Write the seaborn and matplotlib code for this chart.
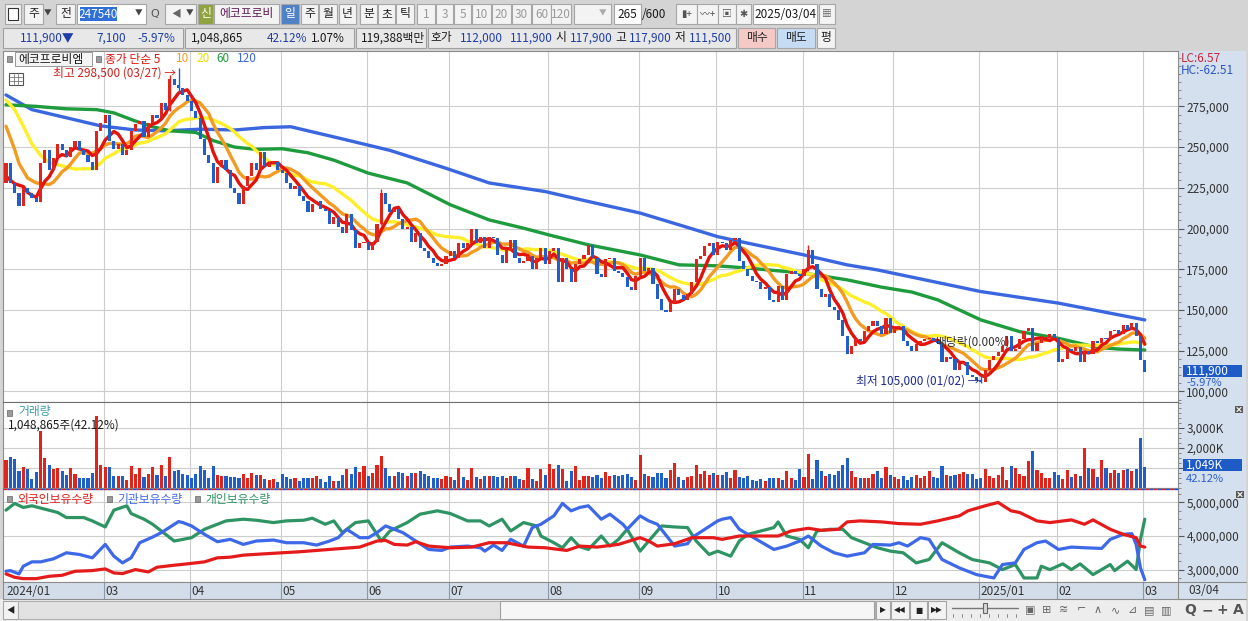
import numpy as np
import pandas as pd
import matplotlib
matplotlib.use("Agg")
import matplotlib.pyplot as plt
from matplotlib.patches import Rectangle
from matplotlib.lines import Line2D
from matplotlib.ticker import MultipleLocator, FuncFormatter
import seaborn as sns

# ---- data (price in 1000 won, volume in 1000 shares) ----
first_open = 228
close = [
    240, 228, 222, 214, 225, 222, 219, 216, 240, 248,
    236, 243, 252, 248, 244, 250, 254, 248, 245, 241,
    236, 260, 265, 270, 254, 249, 252, 245, 248, 260,
    264, 266, 256, 265, 270, 268, 277, 273, 292, 288,
    286, 282, 278, 272, 268, 255, 245, 240, 228, 238,
    242, 236, 225, 222, 215, 226, 232, 240, 236, 247,
    238, 240, 241, 236, 234, 228, 224, 226, 220, 217,
    210, 215, 217, 212, 211, 203, 207, 201, 197, 209,
    199, 188, 191, 192, 187, 192, 203, 222, 215, 210,
    212, 206, 200, 201, 192, 197, 188, 186, 182, 179,
    177, 178, 183, 186, 182, 191, 188, 191, 200, 191,
    195, 188, 195, 194, 184, 179, 187, 193, 182, 179,
    180, 183, 175, 182, 188, 178, 186, 188, 167, 182,
    175, 167, 178, 181, 184, 190, 182, 172, 170, 181,
    182, 174, 173, 170, 164, 162, 171, 182, 174, 176,
    166, 157, 150, 149, 154, 163, 159, 156, 160, 167,
    181, 183, 189, 191, 184, 192, 191, 187, 193, 194,
    180, 175, 171, 168, 167, 163, 164, 156, 155, 165,
    156, 172, 174, 172, 171, 175, 187, 178, 163, 158,
    160, 152, 150, 144, 134, 123, 128, 132, 131, 137,
    140, 143, 140, 135, 145, 136, 139, 140, 131, 128,
    125, 129, 131, 132, 133, 131, 130, 118, 121, 120,
    113, 117, 118, 110, 109, 107, 106, 113, 119, 122,
    124, 128, 134, 125, 126, 132, 137, 139, 125, 130,
    133, 133, 135, 133, 118, 120, 126, 125, 127, 118,
    125, 123, 131, 130, 133, 132, 137, 138, 135, 141,
    138, 142, 134, 119, 111.9,
]
volume = [
    1400, 1533, 1450, 867, 1033, 950, 450, 817, 2867, 1500,
    1150, 950, 1000, 867, 650, 1000, 700, 500, 500, 500,
    750, 3617, 1150, 1050, 1050, 617, 617, 617, 417, 1117,
    700, 1000, 567, 700, 1050, 650, 1150, 617, 1567, 867,
    917, 700, 650, 500, 700, 1117, 917, 500, 1117, 650,
    617, 583, 533, 533, 500, 700, 500, 750, 650, 650,
    450, 417, 450, 317, 700, 533, 450, 500, 367, 500,
    500, 500, 583, 450, 317, 583, 367, 367, 650, 950,
    700, 1033, 817, 1117, 583, 750, 1150, 1617, 1000, 617,
    583, 783, 750, 583, 750, 750, 867, 700, 583, 500,
    500, 450, 583, 533, 400, 1000, 533, 400, 1000, 533,
    450, 583, 583, 583, 533, 583, 500, 583, 617, 450,
    417, 1000, 450, 367, 950, 650, 1200, 950, 1150, 950,
    367, 867, 1117, 400, 583, 583, 533, 650, 500, 783,
    583, 650, 617, 650, 700, 533, 400, 1650, 700, 583,
    533, 750, 750, 500, 917, 1250, 533, 400, 533, 583,
    1150, 700, 867, 650, 750, 650, 650, 783, 500, 900,
    567, 500, 583, 400, 333, 450, 367, 500, 500, 500,
    400, 867, 500, 400, 950, 567, 1700, 450, 1400, 867,
    583, 700, 650, 867, 1150, 1500, 867, 533, 500, 500,
    500, 700, 867, 500, 1067, 650, 533, 450, 583, 400,
    533, 650, 500, 583, 867, 567, 500, 1117, 650, 617,
    650, 700, 817, 700, 700, 450, 500, 950, 583, 500,
    650, 1033, 400, 1100, 1000, 700, 583, 1367, 1850, 900,
    750, 500, 500, 817, 650, 450, 900, 533, 700, 583,
    2000, 1000, 950, 533, 1400, 1000, 750, 900, 750, 900,
    950, 867, 950, 2500, 1049,
]

# trading days per month, 2024-01-26 .. 2025-03-04
month_labels = ['2024/01', '', '03', '04', '05', '06', '07', '08', '09', '10', '11', '12', '2025/01', '02', '03']
month_days = [4, 19, 20, 21, 20, 19, 23, 21, 18, 20, 21, 20, 18, 20, 1]

# wicks for the marked candles
wick_idx = [38, 40, 87, 186, 226]
wick_low = [272, 283, 202, 174, 105]
wick_high = [294, 298.5, 224, 190, 110]
peak_idx, peak_high, peak_date = 40, 298.5, '03/27'
low_idx, low_low, low_date = 226, 105.0, '01/02'

# moving average heads (before the window fills)
ma5_head_idx, ma5_head_val = [0, 2], [232, 227.5]
ma10_head_idx, ma10_head_val = [0, 2, 3, 5, 7], [262.8, 248.6, 240, 231, 228]
ma20_head_idx = [0, 2, 4, 6, 8, 10, 13, 16]
ma20_head_val = [279, 273, 263, 252, 245, 240.5, 238.5, 236.5]
ma60_idx = [0, 7, 14, 21, 25, 30, 34, 38, 44, 48, 53, 58, 64, 70, 76, 84, 93, 103, 112,
            120, 126, 135, 147, 156, 165, 172, 185, 195, 203, 210, 216, 226, 235, 244, 253, 258, 264]
ma60_val = [276, 275, 273.5, 273, 271, 266, 262.5, 260, 259, 254, 250, 248.6, 249, 246.5, 242, 234,
            228, 214.6, 205.3, 200.2, 196, 190, 183.8, 177.7, 177.1, 175.7, 172.6, 168.5, 164, 161,
            156.2, 143.9, 136.7, 132.6, 127, 126, 125.4]
ma120_idx = [0, 6, 14, 22, 30, 37, 45, 53, 60, 66, 78, 89, 102, 112, 125, 135, 147, 156, 165,
             172, 185, 195, 202, 226, 244, 264]
ma120_val = [282, 273, 268, 263, 260.5, 260, 261, 260.5, 262, 262.5, 255, 248, 237, 228, 222.7,
             216.6, 209.5, 202.3, 195, 191, 183.8, 177.7, 174.6, 161.3, 154.2, 143.9]

# holdings (millions of shares, as on the panel scale)
foreign_idx = [0, 2, 4, 7, 10, 13, 16, 20, 23, 25, 27, 30, 33, 35, 39, 42, 46, 49, 52, 55,
               60, 64, 68, 73, 77, 82, 86, 88, 90, 93, 95, 98, 103, 108, 112, 116, 121, 125, 130, 133,
               137, 142, 147, 149, 151, 155, 159, 164, 166, 170, 174, 179, 182, 186, 189, 193, 195, 198, 203, 207,
               212, 216, 221, 223, 227, 230, 233, 235, 239, 242, 247, 250, 252, 256, 259, 262, 263, 264]
foreign_val = [2.87, 2.77, 2.73, 2.73, 2.80, 2.83, 2.95, 2.97, 3.02, 2.90, 2.88, 3.00, 2.93, 3.07, 3.13, 3.17, 3.23, 3.35, 3.37, 3.43,
               3.47, 3.50, 3.53, 3.58, 3.62, 3.67, 3.85, 3.87, 3.75, 3.73, 3.83, 3.70, 3.65, 3.67, 3.80, 3.80, 3.67, 3.65, 3.57, 3.70,
               3.67, 3.75, 3.95, 3.85, 3.70, 3.77, 3.95, 3.95, 3.90, 4.00, 4.00, 4.00, 4.15, 4.23, 4.17, 4.20, 4.42, 4.45, 4.42, 4.37,
               4.35, 4.45, 4.60, 4.75, 4.90, 5.00, 4.75, 4.70, 4.45, 4.40, 4.48, 4.35, 4.48, 4.20, 4.05, 3.95, 3.70, 3.67]
inst_idx = [0, 1, 3, 4, 6, 8, 11, 14, 17, 20, 23, 25, 27, 29, 31, 34, 36, 40, 41, 43, 46, 49, 52, 55, 58,
            62, 65, 69, 72, 75, 77, 79, 82, 84, 86, 88, 89, 92, 95, 98, 101, 103, 107, 110, 111, 113, 115,
            117, 120, 122, 124, 127, 129, 131, 133, 135, 138, 140, 143, 144, 147, 149, 151, 155, 158, 159,
            162, 165, 166, 168, 170, 172, 176, 178, 181, 184, 186, 189, 192, 195, 199, 201, 205, 207, 209,
            212, 214, 217, 221, 225, 229, 231, 234, 236, 239, 241, 244, 247, 250, 254, 256, 259, 261, 262, 263, 264]
inst_val = [2.95, 2.97, 2.87, 3.10, 3.23, 3.23, 3.32, 3.50, 3.45, 3.35, 3.75, 3.40, 3.20, 3.35, 3.80, 3.97, 4.10, 4.43, 4.40, 4.30, 4.05, 3.83, 3.90, 3.75, 3.85,
            3.88, 3.80, 3.80, 3.73, 3.85, 3.95, 4.20, 3.95, 3.95, 4.10, 4.30, 4.25, 4.10, 3.85, 3.60, 3.57, 3.67, 3.70, 3.65, 3.55, 3.73, 3.57,
            3.90, 3.70, 4.25, 4.35, 4.60, 4.97, 4.75, 4.85, 4.90, 4.50, 4.65, 4.35, 4.20, 4.60, 4.45, 4.35, 3.70, 3.77, 3.95,
            4.20, 4.45, 4.50, 4.55, 4.20, 4.05, 3.75, 3.60, 3.70, 3.85, 4.00, 3.70, 3.50, 3.40, 3.50, 3.75, 3.73, 3.80, 3.70,
            3.95, 3.90, 3.30, 3.05, 2.85, 2.75, 3.15, 3.20, 3.60, 3.80, 3.85, 3.60, 3.67, 3.65, 3.63, 3.90, 4.05, 4.07, 3.75, 3.05, 2.70]
indiv_idx = [0, 2, 4, 6, 9, 12, 14, 18, 20, 23, 25, 28, 29, 32, 34, 36, 39, 41, 43, 46, 48, 51, 55, 58, 62,
             65, 69, 71, 74, 76, 78, 81, 84, 87, 89, 93, 96, 100, 103, 107, 110, 112, 115, 117, 120, 123, 124,
             127, 129, 131, 133, 135, 138, 140, 142, 144, 147, 150, 152, 155, 158, 160, 163, 165, 168, 170, 172,
             175, 178, 179, 181, 184, 186, 188, 191, 194, 196, 200, 202, 205, 208, 211, 214, 217, 221, 224, 228,
             231, 234, 236, 239, 240, 242, 245, 247, 249, 252, 256, 257, 260, 262, 263, 264]
indiv_val = [4.77, 4.97, 4.85, 4.90, 4.80, 4.70, 4.55, 4.55, 4.45, 4.27, 4.77, 4.90, 4.67, 4.50, 4.35, 4.15, 3.85, 3.90, 3.95, 4.20, 4.30, 4.45, 4.50, 4.47, 4.40,
             4.45, 4.47, 4.53, 4.35, 4.45, 4.10, 4.40, 4.45, 3.85, 4.15, 4.40, 4.65, 4.75, 4.67, 4.45, 4.45, 4.30, 4.50, 4.15, 4.40, 4.30, 4.00,
             3.80, 3.65, 3.95, 3.68, 3.60, 4.00, 3.70, 3.90, 4.20, 3.55, 4.00, 4.30, 4.27, 4.25, 3.85, 3.45, 3.55, 3.40, 3.85, 4.05,
             4.15, 4.25, 4.42, 4.00, 3.90, 3.65, 4.15, 4.20, 4.20, 3.95, 3.75, 3.65, 3.55, 3.50, 3.20, 3.30, 3.80, 3.50, 3.30, 3.20,
             3.00, 3.15, 2.75, 2.75, 3.10, 3.00, 3.17, 3.00, 3.17, 2.85, 3.15, 2.97, 3.25, 3.00, 3.90, 4.50]

RED = '#E2231A'
BLUE = '#1F5FCB'
MA_COLORS = {5: '#E3120B', 10: '#F39A21', 20: '#FFEE2A', 60: '#1E9B3C', 120: '#3A66E0'}
GRID = '#CDCDCD'
COLBG = '#D5E0EE'

sns.set_style("white")
plt.rcParams['font.family'] = ['Noto Sans CJK KR', 'DejaVu Sans']

W, H = 1248, 621
fig = plt.figure(figsize=(W / 100, H / 100), dpi=100)
fig.patch.set_facecolor('#D4D4D4')


def fx(x):
    return x / W


def fy(y):
    return 1 - y / H


def rect(x0, y0, x1, y1, fc, ec='none', lw=0.8, z=1):
    fig.add_artist(Rectangle((fx(x0), fy(y1)), (x1 - x0) / W, (y1 - y0) / H,
                             transform=fig.transFigure, facecolor=fc, edgecolor=ec, linewidth=lw, zorder=z))


def label(x, y, s, color='#1a1a1a', size=8.5, ha='left', z=6, **kw):
    fig.text(fx(x), fy(y), s, color=color, fontsize=size, ha=ha, va='center', zorder=z, **kw)


def hline(x0, x1, y, color='#808080', lw=0.8, z=6, **kw):
    fig.add_artist(Line2D([fx(x0), fx(x1)], [fy(y), fy(y)], transform=fig.transFigure,
                          color=color, lw=lw, zorder=z, **kw))


def vline(x, y0, y1, color='#808080', lw=0.8, z=6):
    fig.add_artist(Line2D([fx(x), fx(x)], [fy(y0), fy(y1)], transform=fig.transFigure,
                          color=color, lw=lw, zorder=z))


def close_icon(x0, y0):
    # small dark square with a white cross, drawn as lines
    rect(x0, y0, x0 + 8, y0 + 7, '#5A5A5A', z=7)
    fig.add_artist(Line2D([fx(x0 + 2), fx(x0 + 6)], [fy(y0 + 1.5), fy(y0 + 5.5)],
                          transform=fig.transFigure, color='white', lw=0.8, zorder=8))
    fig.add_artist(Line2D([fx(x0 + 2), fx(x0 + 6)], [fy(y0 + 5.5), fy(y0 + 1.5)],
                          transform=fig.transFigure, color='white', lw=0.8, zorder=8))


n = len(close)
idx = np.arange(n)
close_a = np.array(close, dtype=float)
opens = np.r_[first_open, close_a[:-1]]
up = close_a >= opens
candle_col = np.where(up, RED, BLUE)
month_start = np.r_[0, np.cumsum(month_days)[:-1]]
XL = (-0.7, 271.7)

# ---------- toolbar ----------
rect(0, 0, W, 50, '#D4D4D4', z=0.5)


def button(x0, x1, s, y0=4, y1=24, fc='#F3F3F3', tc='#222222', size=8.5, **kw):
    rect(x0, y0, x1, y1, fc, ec='#A6A6A6', lw=0.8, z=1)
    if s:
        label((x0 + x1) / 2, (y0 + y1) / 2, s, color=tc, size=size, ha='center', **kw)


button(5, 21, '')
rect(8, 8, 18, 20, 'white', ec='#333333', lw=0.8, z=2)
button(24, 43, '주')
label(48, 14, '▼', color='#444', size=5.5, ha='center')
button(56, 75, '전')
rect(77, 4, 146, 24, 'white', ec='#A6A6A6', z=1)
rect(80, 7, 117, 21, '#2F6FD8', z=2)
label(98.5, 14, '247540', color='white', size=8.5, ha='center')
label(139, 14, '▼', color='#444', size=5.5, ha='center')
label(155, 14, 'Q', color='#555', size=8, ha='center', family='DejaVu Sans')
button(165, 196, '')
label(176, 14, '◀', color='#666', size=7, ha='center')
label(190, 14, '▼', color='#444', size=5.5, ha='center')
button(198, 213, '신', fc='#8FA33F', tc='white')
button(214, 279, '에코프로비', tc='#5E1B55')
button(281, 299, '일', fc='#4F81C7', tc='white')
for x0, x1, s in [(301, 318, '주'), (319, 337, '월'), (339, 356, '년'),
                  (360, 377, '분'), (378, 395, '초'), (396, 414, '틱')]:
    button(x0, x1, s)
for x0, x1, s in [(417, 435, '1'), (436, 453, '3'), (454, 471, '5'), (472, 491, '10'),
                  (492, 511, '20'), (512, 531, '30'), (532, 551, '60'), (551, 571, '120')]:
    button(x0, x1, s, tc='#9A9A9A')
button(574, 611, '')
label(603, 14, '▼', color='#AAAAAA', size=5.5, ha='center')
rect(614, 4, 641, 24, 'white', ec='#A6A6A6', z=1)
label(627, 14, '265', size=8.5, ha='center')
label(642, 14, '/600', size=8.5)
for x0, x1, s in [(676, 697, '▮+'), (697, 718, '〰+'), (718, 736, '▣'), (736, 751, '✱')]:
    button(x0, x1, s, size=7, tc='#555555')
rect(753, 4, 817, 24, 'white', ec='#A6A6A6', z=1)
label(785, 14, '2025/03/04', size=8.5, ha='center')
button(819, 835, '▦', size=7, tc='#666666')

# second row
for x0, x1 in [(3, 183), (185, 354), (356, 426), (428, 736)]:
    rect(x0, 28, x1, 48, '#E8E8E8', ec='#A0A0A0', z=1)
NAVY = '#1F3FA8'
label(20, 38, '111,900▼', color=NAVY)
label(96, 38, '7,100', color=NAVY)
label(137, 38, '-5.97%', color=NAVY)
label(191, 38, '1,048,865')
label(267, 38, '42.12%', color=NAVY)
label(311, 38, '1.07%')
label(361, 38, '119,388백만')
label(430, 38, '호가')
label(460, 38, '112,000', color=NAVY)
label(510, 38, '111,900', color=NAVY)
label(555, 38, '시')
label(570, 38, '117,900', color=NAVY)
label(615, 38, '고')
label(629, 38, '117,900', color=NAVY)
label(675, 38, '저')
label(689, 38, '111,500', color=NAVY)
button(738, 775, '매수', y0=28, y1=48, fc='#F5C9C6')
button(777, 815, '매도', y0=28, y1=48, fc='#C6DCF5')
button(817, 835, '평', y0=28, y1=48, fc='#F3F3F3')

# right axis column and frame
rect(1178, 51, 1246, 599, COLBG, z=1)
rect(1246, 51, 1248, 621, '#D4D4D4', z=1)

# ---------- price panel ----------
ax_p = fig.add_axes([fx(3), fy(402), (1178 - 3) / W, (402 - 51) / H])
ax_p.set_zorder(2)
ax_p.set_facecolor('white')
ax_p.set_xlim(*XL)
ax_p.set_ylim(93.5, 309)
ax_p.set_yticks(np.arange(100, 276, 25))
ax_p.yaxis.set_minor_locator(MultipleLocator(5))
ax_p.grid(axis='y', color=GRID, lw=0.8)
for s in month_start[2:]:
    ax_p.axvline(s - 0.35, color=GRID, lw=0.8, zorder=0.5)

for w, xs, ys in [(120, ma120_idx, ma120_val), (60, ma60_idx, ma60_val)]:
    sns.lineplot(x=xs, y=ys, ax=ax_p, color=MA_COLORS[w], linewidth=2.4, estimator=None,
                 sort=False, legend=False, zorder=3)

close_s = pd.Series(close_a)
for w, hx, hy in [(20, ma20_head_idx, ma20_head_val), (10, ma10_head_idx, ma10_head_val),
                  (5, ma5_head_idx, ma5_head_val)]:
    roll = close_s.rolling(w).mean()
    xs = list(hx) + list(range(w - 1, n))
    ys = list(hy) + list(roll.iloc[w - 1:])
    sns.lineplot(x=xs, y=ys, ax=ax_p, color=MA_COLORS[w], linewidth=2.4, estimator=None,
                 sort=False, legend=False, zorder=3)

ax_p.vlines(wick_idx, wick_low, wick_high, color=candle_col[wick_idx], lw=1, zorder=4)
body_lo = np.minimum(opens, close_a)
body_h = np.maximum(np.abs(close_a - opens), 0.4)
ax_p.bar(idx, body_h, bottom=body_lo, width=0.72, color=candle_col, linewidth=0, zorder=5)

ax_p.text(peak_idx - 0.6, peak_high - 3.2, f'최고 {peak_high * 1000:,.0f} ({peak_date}) →',
          color='#D0201A', fontsize=8.5, ha='right', va='center', zorder=6)
ax_p.text(low_idx - 0.4, low_low + 1.4, f'최저 {low_low * 1000:,.0f} ({low_date}) →',
          color='#1A2A8C', fontsize=8.5, ha='right', va='center', zorder=6)
ax_p.text(215.3, 130.3, '배당락(0.00%)', color='#333333', fontsize=8.5, ha='left', va='center', zorder=6)

ax_p.yaxis.tick_right()
ax_p.yaxis.set_major_formatter(FuncFormatter(lambda v, p: f'{int(v * 1000):,}'))
ax_p.tick_params(axis='y', which='major', direction='out', length=4, pad=2, labelsize=8.5,
                 colors='#555555', labelcolor='#333333')
ax_p.tick_params(axis='y', which='minor', direction='out', length=2, colors='#777777')
ax_p.set_xticks([])
for sp in ax_p.spines.values():
    sp.set_color('#8C8C8C')
    sp.set_linewidth(0.8)

# legend row in price panel
rect(7, 56, 12, 62, '#9A9A9A', ec='#666666', lw=0.5, z=7)
rect(15, 52, 92, 66, '#F4F4F4', ec='#9A9A9A', lw=0.7, z=7)
label(18, 59, '에코프로비엠', size=8.5, z=8)
rect(96, 56, 101, 62, '#9A9A9A', ec='#666666', lw=0.5, z=7)
label(105, 59, '종가 단순 5', color='#E3120B', z=8)
label(176, 59, '10', color='#F39A21', z=8)
label(196, 59, '20', color='#EEDD00', z=8)
label(216, 59, '60', color='#1E9B3C', z=8)
label(237, 59, '120', color='#3A66E0', z=8)
rect(9, 73, 23, 85, 'white', ec='#555555', lw=0.8, z=7)
for yy in (77, 81):
    hline(10, 22, yy, color='#777777', lw=0.6, z=8)
for xx in (14, 18):
    vline(xx, 74, 84, color='#777777', lw=0.6, z=8)
label(1181, 58, 'LC:6.57', color='#C8283A', size=8.5, z=8)
label(1181, 71, 'HC:-62.51', color='#2A55C5', size=8.5, z=8)
rect(1183, 365, 1242, 377, '#1F5BC6', z=7)
label(1186, 371, f'{close[-1] * 1000:,.0f}', color='white', z=8)
label(1186, 383, '-5.97%', color='#2A5FD0', size=8, z=8)

# ---------- volume panel ----------
ax_v = fig.add_axes([fx(3), fy(488), 1175 / W, (488 - 402) / H])
ax_v.set_zorder(2)
ax_v.set_xlim(*XL)
ax_v.set_ylim(0, 4300)
ax_v.set_yticks([1000, 2000, 3000])
ax_v.yaxis.set_minor_locator(MultipleLocator(250))
ax_v.grid(axis='y', color=GRID, lw=0.8)
for s in month_start[2:]:
    ax_v.axvline(s - 0.35, color=GRID, lw=0.8, zorder=0.5)
ax_v.bar(idx, volume, width=0.72, color=candle_col, linewidth=0, zorder=3)
ax_v.yaxis.tick_right()
# the 1,000K label sits under the current-volume box, so it is left blank
ax_v.yaxis.set_major_formatter(FuncFormatter(lambda v, p: '' if v < 1500 else f'{int(v):,}K'))
ax_v.tick_params(axis='y', which='major', direction='out', length=4, pad=2, labelsize=8.5,
                 colors='#555555', labelcolor='#333333')
ax_v.tick_params(axis='y', which='minor', direction='out', length=2, colors='#777777')
ax_v.set_xticks([])
for sp in ax_v.spines.values():
    sp.set_color('#8C8C8C')
    sp.set_linewidth(0.8)
ax_v.spines['top'].set_color('#707070')

rect(7, 410, 12, 416, '#9A9A9A', ec='#666666', lw=0.5, z=7)
label(18, 412, '거래량', color='#3B9AA8', z=8)
label(8, 425, f'{1048865:,}주(42.12%)', z=8)
rect(1183, 459, 1242, 471, '#1F5BC6', z=7)
label(1186, 465, f'{volume[-1]:,}K', color='white', z=8)
label(1186, 479.5, '42.12%', color='#2A5FD0', size=8, z=8)
close_icon(1235, 406)

# ---------- holdings panel ----------
ax_h = fig.add_axes([fx(3), fy(582), 1175 / W, (582 - 488) / H])
ax_h.set_zorder(2)
ax_h.set_xlim(*XL)
ax_h.set_ylim(2.63, 5.43)
ax_h.set_yticks([3, 4, 5])
ax_h.yaxis.set_minor_locator(MultipleLocator(0.25))
ax_h.grid(axis='y', color=GRID, lw=0.8)
for s in month_start[2:]:
    ax_h.axvline(s - 0.35, color=GRID, lw=0.8, zorder=0.5)
for xs, ys, c in [(indiv_idx, indiv_val, '#2F9463'), (inst_idx, inst_val, '#3D68E8'),
                  (foreign_idx, foreign_val, '#E51B1B')]:
    sns.lineplot(x=xs, y=ys, ax=ax_h, color=c, linewidth=2.3, estimator=None, sort=False,
                 legend=False, zorder=3)
ax_h.yaxis.tick_right()
ax_h.yaxis.set_major_formatter(FuncFormatter(lambda v, p: f'{int(round(v * 1e6)):,}'))
ax_h.tick_params(axis='y', which='major', direction='out', length=4, pad=2, labelsize=8.5,
                 colors='#555555', labelcolor='#333333')
ax_h.tick_params(axis='y', which='minor', direction='out', length=2, colors='#777777')
ax_h.set_xticks([])
for sp in ax_h.spines.values():
    sp.set_color('#8C8C8C')
    sp.set_linewidth(0.8)
hline(3, 1178, 489.2, color='#E02020', lw=1.0, z=7, linestyle=(0, (3, 3)))
hline(3, 1178, 489.2, color='#2050D0', lw=1.0, z=7, linestyle=(3, (3, 3)))

for x0, s, c in [(7, '외국인보유수량', '#E51B1B'), (107, '기관보유수량', '#3D68E8'),
                 (195, '개인보유수량', '#2F9463')]:
    rect(x0, 496, x0 + 5, 502, '#9A9A9A', ec='#666666', lw=0.5, z=7)
    label(x0 + 10, 499, s, color=c, z=8)
close_icon(1236, 491)

# ---------- date band ----------
ax_b = fig.add_axes([fx(3), fy(599), 1175 / W, (599 - 582) / H])
ax_b.set_zorder(2)
ax_b.set_facecolor('#D3DDEA')
ax_b.set_xlim(*XL)
ax_b.set_ylim(0, 1)
ax_b.set_xticks([])
ax_b.set_yticks([])
for s, lab in zip(month_start, month_labels):
    if not lab:
        continue
    if s > 0:
        ax_b.axvline(s - 0.35, color='#8A98AA', lw=0.8)
    ax_b.text(max(s - 0.35, -0.55) + 0.35, 0.45, lab, fontsize=8.5, color='#333333',
              ha='left', va='center')
for sp in ax_b.spines.values():
    sp.set_color('#8C8C8C')
    sp.set_linewidth(0.8)
label(1188, 590, '03/04', color='#333333')
hline(1178, 1246, 582, color='#8C8C8C')
hline(1178, 1246, 599, color='#8C8C8C')

# ---------- scrollbar row ----------
rect(0, 599, 1246, 621, '#EDEDED', z=1)
button(3, 18, '◀', y0=601, y1=619, size=6)
rect(18, 601, 875, 619, '#E2E2E2', ec='#B0B0B0', z=1)
rect(500, 601, 874, 619, '#F6F6F6', ec='#A0A0A0', z=1)
for x0, x1, s in [(876, 890, '▶'), (891, 909, '◀◀'), (910, 927, '■'), (928, 946, '▶▶')]:
    button(x0, x1, s, y0=601, y1=619, size=5.5, family='DejaVu Sans')
hline(952, 1018, 608, color='#777777', lw=1.0, z=3)
rect(983, 603, 987, 613, '#D8D8D8', ec='#666666', z=3)
for k in range(8):
    vline(953 + k * 9, 614, 617, color='#777777', lw=0.6, z=3)
for k, s in enumerate(['▣', '⊞', '≋', '⌐', '∧', '∿', '⊿', '▤', '▥']):
    label(1030 + k * 17, 610, s, color='#666666', size=8, ha='center', family='DejaVu Sans')
for x, s in [(1190, 'Q'), (1207, '−'), (1222, '+'), (1238, 'A')]:
    label(x, 610, s, color='#555555', size=10, ha='center', family='DejaVu Sans', weight='bold')

fig.savefig('out.png', dpi=100, facecolor=fig.get_facecolor())
